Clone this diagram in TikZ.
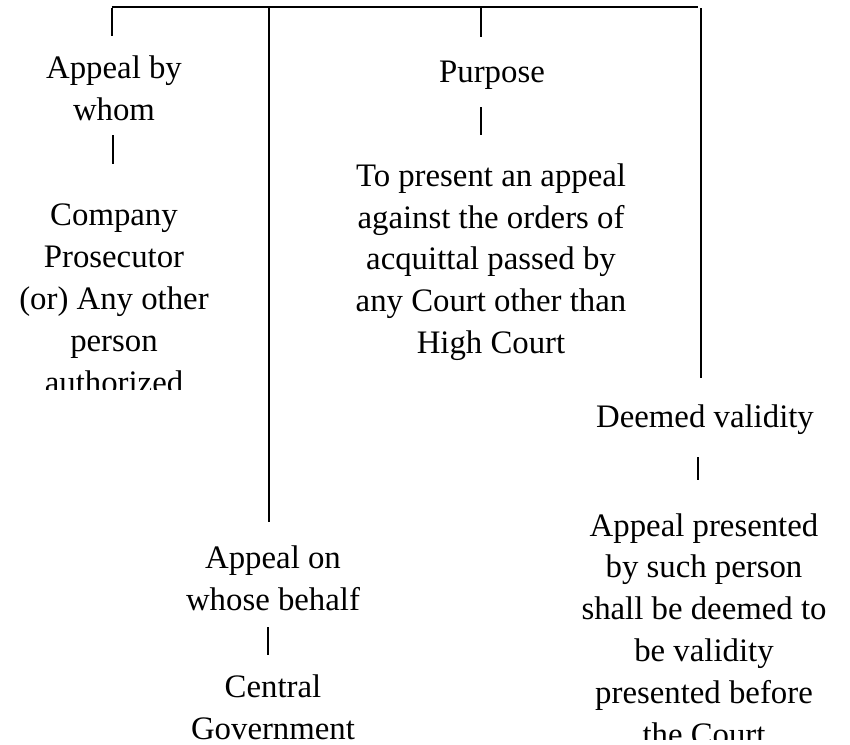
\documentclass[tikz,border=0pt]{standalone}
\usepackage{fontspec}
\setmainfont{Liberation Serif}
\begin{document}
\begin{tikzpicture}[x=1pt,y=-1pt,
  rule/.style={line width=1.7pt,black},
  label/.style={font=\fontsize{32.8}{41.8}\selectfont,align=center,anchor=base,inner sep=0pt}]
\useasboundingbox (0,0) rectangle (850,744);

% top bar and its drops
\coordinate (barL) at (111.7,6.8);
\coordinate (barR) at (698,6.8);
\draw[rule] (barL) -- (barR);
\coordinate (d1a) at (111.7,8);   \coordinate (d1b) at (111.7,36);
\coordinate (d2a) at (269,7);     \coordinate (d2b) at (269,522);
\coordinate (d3a) at (481,7);     \coordinate (d3b) at (481,37);
\coordinate (d4a) at (701,8);     \coordinate (d4b) at (701,378);
\draw[rule] (d1a) -- (d1b);
\draw[rule] (d2a) -- (d2b);
\draw[rule] (d3a) -- (d3b);
\draw[rule] (d4a) -- (d4b);

% headings (a multi-line node sits on the baseline of its last line)
\node[label] (whom) at (114,120) {Appeal by\\whom};
\node[label] (purpose) at (492,82) {Purpose};
\node[label] (deemed) at (705,427) {Deemed validity};
\node[label] (behalf) at (273,610) {Appeal on\\whose behalf};

% short ticks between heading and text
\coordinate (t1a) at (112.7,135); \coordinate (t1b) at (112.7,164);
\coordinate (t2a) at (481,107);   \coordinate (t2b) at (481,135);
\coordinate (t3a) at (698,457);   \coordinate (t3b) at (698,480);
\coordinate (t4a) at (268,627);   \coordinate (t4b) at (268,655);
\draw[rule] (t1a) -- (t1b);
\draw[rule] (t2a) -- (t2b);
\draw[rule] (t3a) -- (t3b);
\draw[rule] (t4a) -- (t4b);

% texts
\begin{scope}
  \clip (0,150) rectangle (262,389);
  \node[label] (whomtext) at (114,393) {Company\\Prosecutor\\(or) Any other\\person\\authorized};
\end{scope}
\node[label] (purposetext) at (491,353.5) {To present an appeal\\against the orders of\\acquittal passed by\\any Court other than\\High Court};
\node[label] (behalftext) at (273,739) {Central\\Government};
\begin{scope}
  \clip (540,490) rectangle (850,739);
  \node[label] (deemedtext) at (704,745) {Appeal presented\\by such person\\shall be deemed to\\be validity\\presented before\\the Court};
\end{scope}
\end{tikzpicture}
\end{document}
